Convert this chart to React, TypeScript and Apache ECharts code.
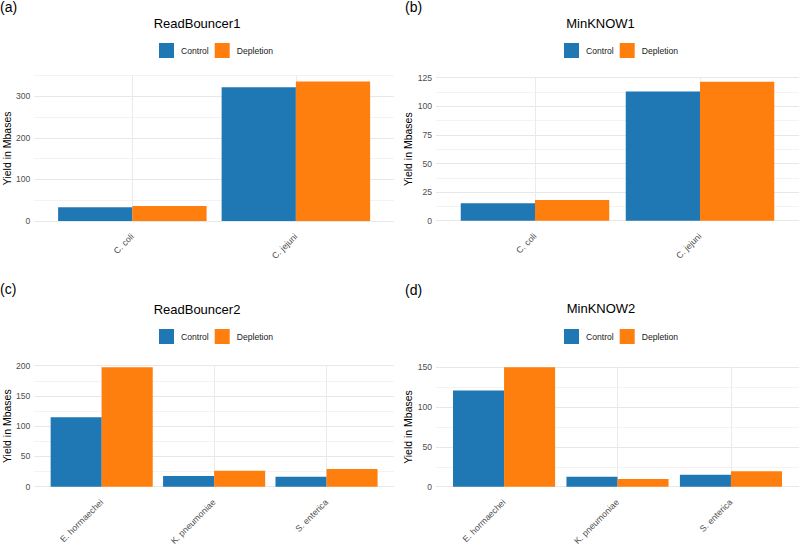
import React, { useEffect, useRef } from 'react';
import * as echarts from 'echarts';

const seriesNames = ['Control', 'Depletion'];
const panelLetters = ['(a)', '(b)', '(c)', '(d)'];
const panelTitles = ['ReadBouncer1', 'MinKNOW1', 'ReadBouncer2', 'MinKNOW2'];

const categoriesTop = ['C. coli', 'C. jejuni'];
const categoriesBottom = ['E. hormaechei', 'K. pneumoniae', 'S. enterica'];

const rb1Control = [33, 322];
const rb1Depletion = [36, 336];
const mk1Control = [15.2, 113];
const mk1Depletion = [18.1, 121.5];
const rb2Control = [114.7, 17.7, 16.5];
const rb2Depletion = [197.4, 26.5, 29.3];
const mk2Control = [121, 12.6, 15.1];
const mk2Depletion = [150, 9.7, 19.3];

const yMax = [350, 125, 200, 150];
const yGridStep = [50, 12.5, 25, 25];
const yLabelStep = [100, 25, 50, 50];

const FONT = '"Liberation Sans", Arial, Helvetica, sans-serif';
const COLORS = ['#1f77b4', '#ff7f0e'];

const layout = [
  { left: 31, right: 394, top: 75.7, zero: 221, titleX: 197, titleY: 25, legendX: 159, legendY: 43, letterX: 0, letterY: 0 },
  { left: 436, right: 799, top: 77.7, zero: 220.7, titleX: 600.5, titleY: 25, legendX: 564, legendY: 43, letterX: 405, letterY: 0 },
  { left: 31, right: 394, top: 365.7, zero: 486.7, titleX: 197, titleY: 310.5, legendX: 159, legendY: 329, letterX: 0, letterY: 282 },
  { left: 436, right: 799, top: 367.3, zero: 486.7, titleX: 601, titleY: 310, legendX: 564, legendY: 329, letterX: 405, letterY: 283 },
];

const W = 799;
const H = 548;

export default function App() {
  const ref = useRef<HTMLDivElement>(null);

  useEffect(() => {
    if (!ref.current) return;
    document.body.style.margin = '0';
    const chart = echarts.init(ref.current, null, { renderer: 'svg', width: W, height: H });

    const panels = [
      { cats: categoriesTop, values: [rb1Control, rb1Depletion] },
      { cats: categoriesTop, values: [mk1Control, mk1Depletion] },
      { cats: categoriesBottom, values: [rb2Control, rb2Depletion] },
      { cats: categoriesBottom, values: [mk2Control, mk2Depletion] },
    ];

    const grids: any[] = [];
    const xAxes: any[] = [];
    const yAxes: any[] = [];
    const series: any[] = [];
    const titles: any[] = [];
    const legends: any[] = [];
    const graphics: any[] = [];

    panels.forEach((p, i) => {
      const L = layout[i];
      const n = p.cats.length;
      const count = 5 * n + 2;
      const isCenter = (idx: number) => {
        const k = (idx - 3) / 5;
        return Number.isInteger(k) && k >= 0 && k < n;
      };
      const labels: string[] = [];
      for (let j = 0; j < count; j++) {
        labels.push(isCenter(j) ? p.cats[(j - 3) / 5] : 'pad' + j);
      }
      const unit = (L.right - L.left) / (n + 0.2);
      const barWidth = 0.45 * unit;

      grids.push({
        left: L.left,
        width: L.right - L.left,
        top: L.top,
        height: L.zero - L.top,
        containLabel: false,
      });

      xAxes.push({
        gridIndex: i,
        type: 'category',
        boundaryGap: false,
        data: labels,
        axisLine: { show: false },
        axisTick: { show: false },
        axisLabel: {
          interval: (idx: number) => isCenter(idx),
          rotate: 45,
          color: '#4d4d4d',
          fontSize: 8.8,
          fontFamily: FONT,
          margin: 14,
        },
        splitLine: {
          show: true,
          interval: (idx: number) => isCenter(idx),
          lineStyle: { color: '#ebebeb', width: 1 },
        },
      });

      const lstep = yLabelStep[i];
      yAxes.push({
        gridIndex: i,
        type: 'value',
        min: 0,
        max: yMax[i],
        interval: yGridStep[i],
        axisLine: { show: false },
        axisTick: { show: false },
        axisLabel: {
          formatter: (v: number) => {
            const r = v / lstep;
            return Math.abs(r - Math.round(r)) < 1e-6 ? String(v) : '';
          },
          color: '#4d4d4d',
          fontSize: 8.6,
          fontFamily: FONT,
          margin: 4,
        },
        splitLine: { show: true, lineStyle: { color: ['#e8e8e8', '#f3f3f3'], width: 1 } },
        name: 'Yield in Mbases',
        nameLocation: 'middle',
        nameGap: 22,
        nameTextStyle: { fontSize: 10.5, color: '#000', fontFamily: FONT },
      });

      p.values.forEach((vals, s) => {
        const data: (number | null)[] = [];
        for (let j = 0; j < count; j++) {
          data.push(isCenter(j) ? vals[(j - 3) / 5] : null);
        }
        series.push({
          type: 'bar',
          name: seriesNames[s],
          xAxisIndex: i,
          yAxisIndex: i,
          data,
          barWidth,
          barGap: '0%',
          itemStyle: { color: COLORS[s] },
        });
      });

      titles.push({
        text: panelTitles[i],
        left: L.titleX,
        top: L.titleY - 8,
        textAlign: 'center',
        padding: 0,
        textStyle: { fontSize: 13, fontWeight: 'normal', color: '#000', fontFamily: FONT },
      });

      legends.push({
        left: L.legendX,
        top: L.legendY,
        padding: 0,
        itemWidth: 15,
        itemHeight: 15,
        itemGap: 6,
        icon: 'rect',
        selectedMode: false,
        data: seriesNames,
        textStyle: { fontSize: 8.6, color: '#1a1a1a', fontFamily: FONT, padding: [0, 0, 0, 2] },
      });

      graphics.push({
        type: 'text',
        x: L.letterX,
        y: L.letterY,
        style: { text: panelLetters[i], fill: '#000', font: `14px ${FONT}` },
      });
    });

    chart.setOption({
      animation: false,
      backgroundColor: '#ffffff',
      textStyle: { fontFamily: FONT },
      title: titles,
      legend: legends,
      grid: grids,
      xAxis: xAxes,
      yAxis: yAxes,
      series,
      graphic: graphics,
    });

    return () => {
      chart.dispose();
    };
  }, []);

  return (
    <div
      ref={ref}
      style={{ position: 'fixed', left: 0, top: 0, width: W, height: H }}
    />
  );
}
